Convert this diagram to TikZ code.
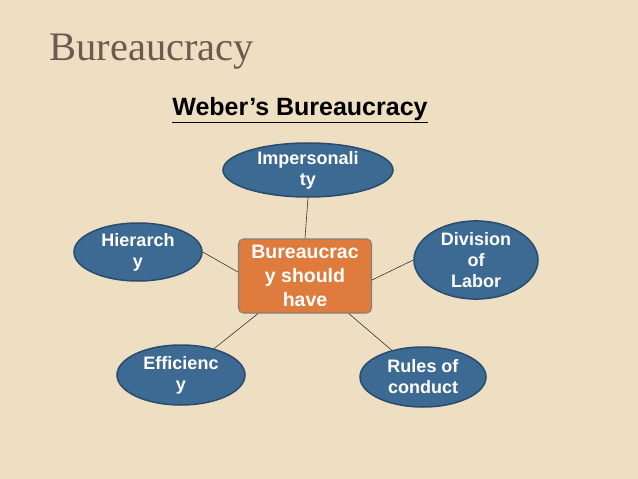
\documentclass[tikz,border=0pt]{standalone}
\usepackage{fontspec}
\setmainfont{Liberation Sans}
\newfontfamily\titlefont{Liberation Serif}
\usetikzlibrary{shapes.geometric}
\definecolor{bg}{HTML}{EEDFC3}
\definecolor{ell}{HTML}{3D6A93}
\definecolor{elldark}{HTML}{284C6E}
\definecolor{org}{HTML}{E07B3E}
\definecolor{ttl}{HTML}{6B5B4F}
\tikzset{
 oval/.style={ellipse,fill=ell,draw=elldark,line width=1.5pt,inner sep=0pt,text=white,font=\fontsize{18}{21}\selectfont\bfseries,align=center},
 hub/.style={rectangle,rounded corners=5pt,fill=org,draw=gray,line width=1.2pt,text=white,font=\fontsize{19.5}{24}\selectfont\bfseries,align=center},
 link/.style={draw=black!80,line width=0.6pt}
}
\begin{document}
\begin{tikzpicture}[x=1pt,y=-1pt]
\fill[bg] (0,0) rectangle (638,479);
\useasboundingbox (0,0) rectangle (638,479);
\node[anchor=west,text=ttl,font=\titlefont\fontsize{40.5}{42}\selectfont] (title) at (46,52) {Bureaucracy};
\node[font=\fontsize{25}{27}\selectfont\bfseries] (sub) at (300,110) {\underline{Weber’s Bureaucracy}};
\node[hub,minimum width=133,minimum height=74,inner sep=1pt] (c) at (305,276) {Bureaucrac\\y should\\have};
\node[oval,minimum width=170,minimum height=54] (imp) at (308,170) {Impersonali\\ty};
\node[oval,minimum width=128,minimum height=58] (hie) at (138,252) {Hierarch\\y};
\node[oval,minimum width=124,minimum height=64] (div) at (476,260) {Division\\of\\Labor};
\node[oval,minimum width=128,minimum height=60] (eff) at (181,375) {Efficienc\\y};
\node[oval,minimum width=126,minimum height=60] (rul) at (423,377) {Rules of\\conduct};
\draw[link] (imp.south) -- (c.north);
\draw[link] (hie.east) -- (c.west|-0,272);
\draw[link] (div.west) -- (c.east|-0,280);
\draw[link] (eff) -- (c);
\draw[link] (rul) -- (c);
\end{tikzpicture}
\end{document}
